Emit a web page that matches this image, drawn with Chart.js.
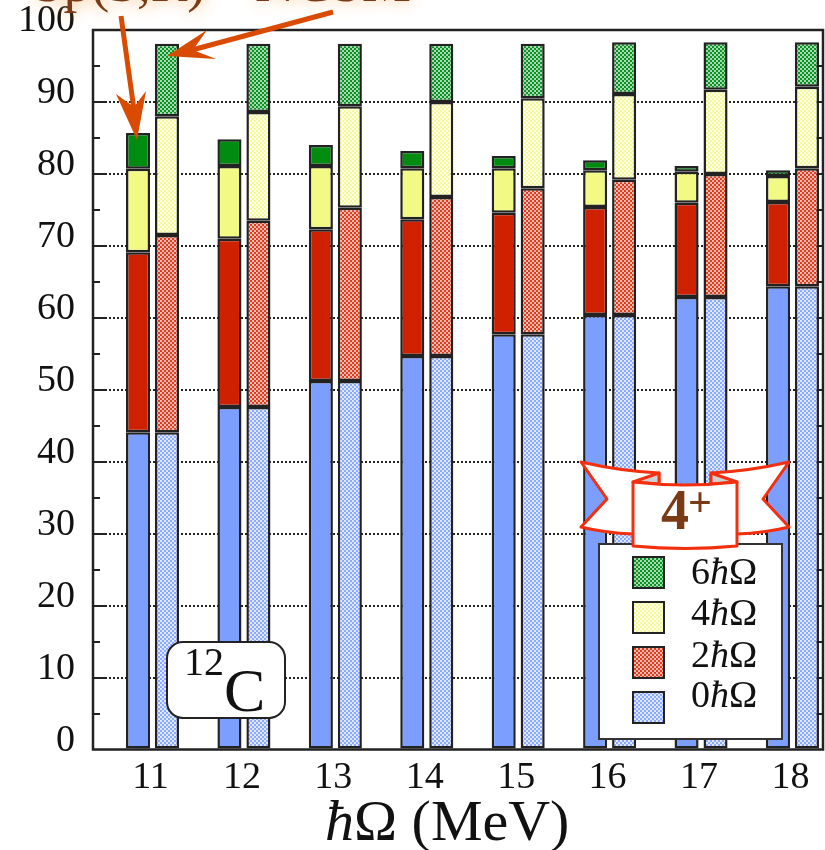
<!DOCTYPE html>
<html><head><meta charset="utf-8">
<style>html,body{margin:0;padding:0;background:#fff}canvas{display:block;filter:blur(0.45px)}</style>
<script src="https://cdn.jsdelivr.net/npm/chart.js@4/dist/chart.umd.js"></script>
</head><body>
<div style="width:825px;height:850px;position:relative"><canvas id="c" width="825" height="850"></canvas></div>
<script>
const categories = [11,12,13,14,15,16,17,18];
const yTickLabels = [0,10,20,30,40,50,60,70,80,90,100];
const seriesLabels = ['0','2','4','6'];
const solid0 = [44.1,47.6,51.2,54.7,57.7,60.4,62.9,64.4];
const solid2 = [25.0,23.4,21.1,19.0,16.9,15.0,13.1,11.7];
const solid4 = [11.6,10.1,8.8,7.1,6.2,5.1,4.3,3.6];
const solid6 = [5.0,3.7,2.9,2.4,1.7,1.4,0.8,0.8];
const dither0 = [44.1,47.6,51.2,54.7,57.7,60.4,62.9,64.4];
const dither2 = [27.4,25.9,24.1,22.1,20.3,18.8,17.1,16.4];
const dither4 = [16.5,15.1,14.1,13.2,12.5,11.9,11.7,11.3];
const dither6 = [10.1,9.5,8.7,8.1,7.6,7.2,6.6,6.2];

const solidColors = ['#7b9eff','#cf2000','#f2fa85','#008c10'];
const ditherPairs = [['#8aaaff','#dfe7ff'],['#dc3d20','#f6b9ab'],['#f4fa9a','#feffe6'],['#0f8f28','#a3dcac']];
const SERIF = '"Liberation Serif","Times New Roman",serif';

function pattern(a,b){
  const t=document.createElement('canvas');t.width=4;t.height=4;
  const x=t.getContext('2d');
  x.fillStyle=a;x.fillRect(0,0,4,4);
  x.fillStyle=b;x.fillRect(0,0,2,2);x.fillRect(2,2,2,2);
  return x.createPattern(t,'repeat');
}
const ditherFills = ditherPairs.map(p=>pattern(p[0],p[1]));
const pts = arr => categories.map((c,i)=>({x:c,y:arr[i]}));
const EDGE='#222';
function ds(arr,i,group,fill){
  return {label:seriesLabels[i]+'\u0127\u03a9',data:pts(arr),stack:group,backgroundColor:fill,
    borderColor:EDGE,borderWidth:2.5,borderSkipped:false,categoryPercentage:0.634,barPercentage:0.83};
}
const datasets=[
  ds(solid0,0,'solid',solidColors[0]),ds(solid2,1,'solid',solidColors[1]),
  ds(solid4,2,'solid',solidColors[2]),ds(solid6,3,'solid',solidColors[3]),
  ds(dither0,0,'dither',ditherFills[0]),ds(dither2,1,'dither',ditherFills[1]),
  ds(dither4,2,'dither',ditherFills[2]),ds(dither6,3,'dither',ditherFills[3])
];

function runs(ctx,x,y,size,parts){
  ctx.textAlign='left';ctx.textBaseline='alphabetic';
  for(const [t,it] of parts){
    ctx.font=(it?'italic ':'')+size+'px '+SERIF;
    ctx.fillText(t,x,y);x+=ctx.measureText(t).width;
  }
}
const axisDeco={
  id:'axisDeco',
  beforeDatasetsDraw(ch){
    const {ctx,chartArea:a,scales:{y}}=ch;
    ctx.save();ctx.strokeStyle=EDGE;ctx.lineWidth=2;
    for(let v=5;v<100;v+=5){
      const p=Math.round(y.getPixelForValue(v)),l=v%10===0?12:7;
      ctx.beginPath();ctx.moveTo(a.left,p);ctx.lineTo(a.left+l,p);
      ctx.moveTo(a.right,p);ctx.lineTo(a.right-l,p);ctx.stroke();
    }
    ctx.restore();
  },
  afterDatasetsDraw(ch){
    const {ctx,chartArea:a}=ch;
    ctx.save();ctx.strokeStyle=EDGE;ctx.lineWidth=2.5;
    ctx.strokeRect(a.left,a.top,a.right-a.left,a.bottom-a.top);
    ctx.restore();
  }
};
const overlay={
  id:'overlay',
  afterDraw(ch){
    const ctx=ch.ctx;ctx.save();
    ctx.fillStyle='#111';
    runs(ctx,325,840,58,[['\u0127',true],['\u03a9 (MeV)',false]]);

    ctx.beginPath();ctx.roundRect(167,642,118,76,16);
    ctx.fillStyle='#fff';ctx.fill();ctx.strokeStyle=EDGE;ctx.lineWidth=2;ctx.stroke();
    ctx.fillStyle='#111';
    ctx.font='40px '+SERIF;ctx.textAlign='left';ctx.textBaseline='alphabetic';ctx.fillText('12',184,675);
    ctx.font='62px '+SERIF;ctx.fillText('C',224,711);

    ctx.fillStyle='#fff';ctx.fillRect(599,544,183,195);
    ctx.strokeStyle='#333';ctx.lineWidth=2;ctx.strokeRect(599,544,183,195);
    const swY=[557,602,647,692],txY=[584,625,667,707];
    [3,2,1,0].forEach((s,i)=>{
      ctx.fillStyle=ditherFills[s];ctx.fillRect(633,swY[i],31,31);
      ctx.strokeStyle=EDGE;ctx.lineWidth=2;ctx.strokeRect(633,swY[i],31,31);
      ctx.fillStyle='#111';
      runs(ctx,691,txY[i],38,[[seriesLabels[s],false],['\u0127',true],['\u03a9',false]]);
    });

    const red='#f2300f';ctx.lineJoin='round';ctx.lineWidth=3;ctx.strokeStyle=red;
    ctx.fillStyle='#fff';
    ctx.beginPath();ctx.moveTo(581,462);ctx.quadraticCurveTo(620,471,659,473);ctx.lineTo(659,500);ctx.lineTo(640,534);
    ctx.lineTo(633,534);ctx.quadraticCurveTo(605,533,581,527);ctx.lineTo(607,499);ctx.closePath();ctx.fill();ctx.stroke();
    ctx.beginPath();ctx.moveTo(789,462);ctx.quadraticCurveTo(750,471,711,473);ctx.lineTo(711,500);ctx.lineTo(730,534);
    ctx.lineTo(737,534);ctx.quadraticCurveTo(765,533,789,527);ctx.lineTo(763,499);ctx.closePath();ctx.fill();ctx.stroke();
    ctx.fillStyle='#d0d0d0';
    ctx.beginPath();ctx.moveTo(659,473);ctx.lineTo(659,484);ctx.lineTo(633,482);ctx.closePath();ctx.fill();ctx.stroke();
    ctx.beginPath();ctx.moveTo(711,473);ctx.lineTo(711,484);ctx.lineTo(737,482);ctx.closePath();ctx.fill();ctx.stroke();
    ctx.fillStyle='#fff';
    ctx.beginPath();ctx.moveTo(633,482);ctx.quadraticCurveTo(685,488,737,482);ctx.lineTo(737,546);
    ctx.quadraticCurveTo(685,551,633,546);ctx.closePath();ctx.fill();ctx.stroke();
    ctx.fillStyle='#7b3a16';ctx.textAlign='left';ctx.textBaseline='alphabetic';
    ctx.font='bold 56px '+SERIF;ctx.fillText('4',661,529);
    ctx.font='bold 42px '+SERIF;ctx.fillText('+',688,516);

    ctx.save();
    ctx.shadowColor='#f5a04a';ctx.shadowBlur=16;ctx.fillStyle='#7b3a16';
    ctx.font='55px '+SERIF;
    ctx.fillText('Sp(3,R)',33,1);ctx.fillText('NCSM',255,1);
    ctx.restore();

    ctx.fillStyle=ctx.strokeStyle='#d94b00';ctx.lineWidth=5;ctx.lineCap='butt';
    ctx.beginPath();ctx.moveTo(121,16);ctx.lineTo(134,110);ctx.stroke();
    ctx.beginPath();ctx.moveTo(137,140);ctx.lineTo(116,94);ctx.lineTo(134,107);ctx.lineTo(146,91);ctx.closePath();ctx.fill();
    ctx.beginPath();ctx.moveTo(333,12);ctx.lineTo(192,50);ctx.stroke();
    ctx.beginPath();ctx.moveTo(167,56);ctx.lineTo(207,30);ctx.lineTo(193,50);ctx.lineTo(216,59);ctx.closePath();ctx.fill();
    ctx.restore();
  }
};

new Chart(document.getElementById('c'),{
  type:'bar',
  data:{datasets},
  plugins:[axisDeco,overlay],
  options:{
    responsive:false,animation:false,
    layout:{padding:{left:0,top:30,right:2,bottom:0}},
    plugins:{legend:{display:false},tooltip:{enabled:false},title:{display:false}},
    scales:{
      x:{type:'linear',stacked:true,offset:false,min:10.349,max:18.334,
        afterFit(s){s.height=100.5;s.paddingLeft=0;s.paddingRight=0;},
        grid:{display:false,drawTicks:false},border:{display:false},
        ticks:{stepSize:1,includeBounds:false,autoSkip:false,maxRotation:0,minRotation:0,padding:6,labelOffset:-2,
          color:'#111',font:{family:SERIF,size:38},
          callback:v=>categories.includes(v)?String(v):''}},
      y:{stacked:true,min:0,max:100,
        afterFit(s){s.width=93;s.paddingTop=0;s.paddingBottom=0;},
        grid:{color:c=>c.tick.value%10===0&&c.tick.value>0&&c.tick.value<100?'#222':'rgba(0,0,0,0)',lineWidth:2,drawTicks:false,tickLength:0},
        border:{display:false,dash:[2,2]},
        ticks:{stepSize:5,autoSkip:false,padding:18,labelOffset:-8.5,color:'#111',font:{family:SERIF,size:38},
          callback:v=>yTickLabels.includes(v)?String(v):''}}
    }
  }
});
</script>
</body></html>
